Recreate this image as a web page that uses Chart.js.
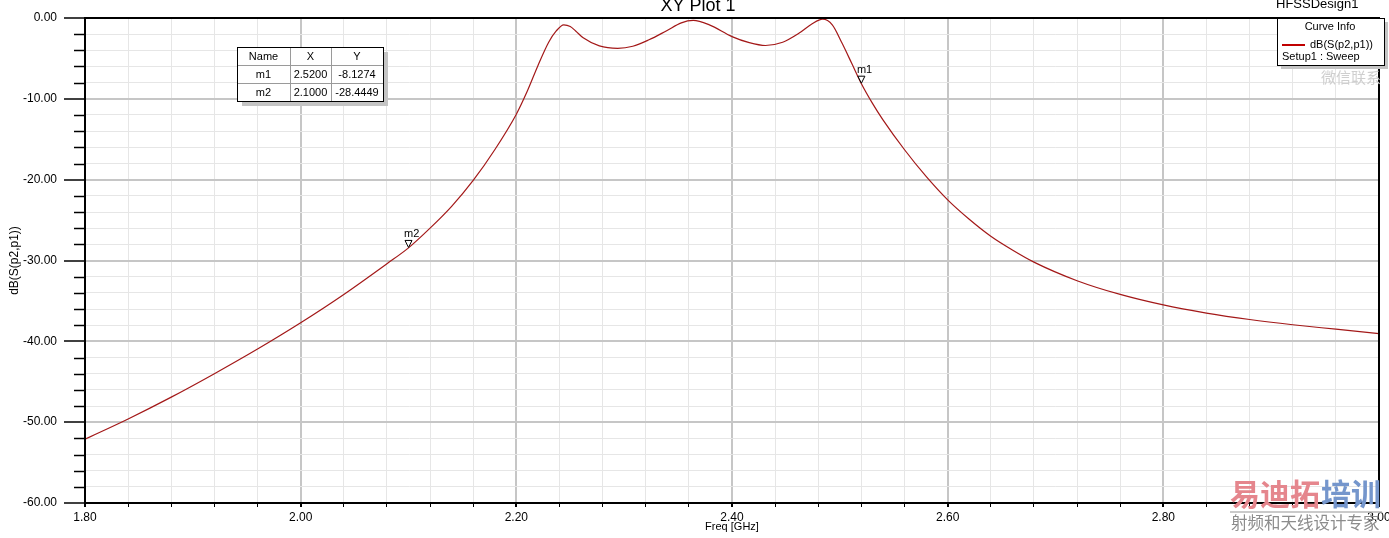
<!DOCTYPE html>
<html>
<head>
<meta charset="utf-8">
<script src="https://cdn.jsdelivr.net/npm/chart.js@4.4.1/dist/chart.umd.min.js"></script>
<style>
html,body{margin:0;padding:0;background:#fff}
#wrap{width:1389px;height:538px;position:relative}
</style>
</head>
<body>
<div id="wrap"><canvas id="myChart"></canvas></div>
<script>
// S21 curve
const freqGHz = [1.80,1.84,1.88,1.92,1.96,2.00,2.04,2.08,2.10,2.12,2.14,2.16,2.18,2.20,2.21,2.22,2.23,2.237,2.244,2.25,2.255,2.262,2.277,2.294,2.308,2.323,2.339,2.353,2.364,2.379,2.40,2.416,2.431,2.447,2.462,2.474,2.484,2.493,2.502,2.511,2.52,2.53,2.54,2.56,2.58,2.60,2.62,2.64,2.66,2.68,2.72,2.76,2.80,2.84,2.88,2.92,2.96,3.00];
const s21dB = [-52.1,-49.6,-46.9,-44.0,-40.95,-37.7,-34.2,-30.4,-28.44,-26.0,-23.3,-20.1,-16.3,-11.9,-9.1,-5.9,-3.0,-1.6,-0.85,-1.05,-1.6,-2.45,-3.45,-3.75,-3.5,-2.7,-1.6,-0.6,-0.3,-0.85,-2.3,-3.05,-3.4,-3.0,-1.9,-0.75,-0.15,-0.85,-3.1,-5.6,-8.13,-10.5,-12.6,-16.3,-19.6,-22.5,-24.9,-27.0,-28.7,-30.2,-32.5,-34.2,-35.5,-36.5,-37.3,-37.95,-38.5,-39.05];

// markers
const markerNames = ['m1','m2'];
const markerX = [2.52, 2.10];
const markerY = [-8.1274, -28.4449];

const legendLabel = 'dB(S(p2,p1))';
const legendSetup = 'Setup1 : Sweep';

const FONT = '"Liberation Sans", Arial, sans-serif';

function isMajorX(v){ return Math.abs(v*5 - Math.round(v*5)) < 1e-6; }
function isMajorY(v){ return Math.abs(v/10 - Math.round(v/10)) < 1e-6; }

const decor = {
  id: 'decor',
  beforeDraw(chart){
    const c = chart.ctx;
    c.save();
    c.fillStyle = '#fff';
    c.fillRect(0,0,chart.width,chart.height);
    c.restore();
  },
  afterDraw(chart){
    const c = chart.ctx;
    const a = chart.chartArea;
    const xs = chart.scales.x, ys = chart.scales.y;
    c.save();

    // frame
    c.strokeStyle = '#000';
    c.lineWidth = 2;
    c.strokeRect(a.left, a.top, a.right-a.left, a.bottom-a.top);

    // minor y ticks
    c.lineWidth = 1.5;
    ys.ticks.forEach(t => {
      if (isMajorY(t.value)) return;
      const py = Math.round(ys.getPixelForValue(t.value)) + 0.5;
      c.beginPath(); c.moveTo(a.left-11, py); c.lineTo(a.left, py); c.stroke();
    });

    // markers on the curve
    c.font = '11px ' + FONT;
    c.textBaseline = 'bottom';
    c.textAlign = 'left';
    markerNames.forEach((n,i) => {
      const px = xs.getPixelForValue(markerX[i]);
      const py = ys.getPixelForValue(markerY[i]);
      c.beginPath();
      c.moveTo(px-3.5, py-7.5); c.lineTo(px+3.5, py-7.5); c.lineTo(px, py-0.5); c.closePath();
      c.fillStyle = '#fff'; c.fill();
      c.strokeStyle = '#000'; c.lineWidth = 1; c.stroke();
      c.fillStyle = '#000';
      c.fillText(n, px-4.5, py-8);
    });

    // marker table
    const tx = 237, ty = 47, cw = [53,41,52], rh = 18;
    const tw = cw[0]+cw[1]+cw[2], th = rh*3;
    c.fillStyle = '#c4c4c4';
    c.fillRect(tx+5, ty+5, tw, th);
    c.fillStyle = '#fff';
    c.fillRect(tx, ty, tw, th);
    c.strokeStyle = '#9a9a9a'; c.lineWidth = 1;
    c.beginPath();
    c.moveTo(tx+cw[0]+0.5, ty); c.lineTo(tx+cw[0]+0.5, ty+th);
    c.moveTo(tx+cw[0]+cw[1]+0.5, ty); c.lineTo(tx+cw[0]+cw[1]+0.5, ty+th);
    c.moveTo(tx, ty+rh+0.5); c.lineTo(tx+tw, ty+rh+0.5);
    c.moveTo(tx, ty+2*rh+0.5); c.lineTo(tx+tw, ty+2*rh+0.5);
    c.stroke();
    c.strokeStyle = '#000';
    c.strokeRect(tx+0.5, ty+0.5, tw, th);
    const rows = [['Name','X','Y']];
    markerNames.forEach((n,i) => rows.push([n, markerX[i].toFixed(4), markerY[i].toFixed(4)]));
    c.fillStyle = '#000';
    c.textAlign = 'center'; c.textBaseline = 'middle';
    c.font = '11px ' + FONT;
    rows.forEach((r,ri) => {
      let cx = tx;
      r.forEach((s,ci) => {
        c.fillText(s, cx + cw[ci]/2, ty + ri*rh + rh/2 + 1);
        cx += cw[ci];
      });
    });

    // watermark text (drawn before legend box)
    c.font = '15px "Noto Sans CJK SC", sans-serif';
    c.fillStyle = '#cfcfcf';
    c.textAlign = 'left'; c.textBaseline = 'middle';
    c.fillText('微信联系', 1321, 77);

    // curve info box
    const lx = 1277, ly = 18, lw = 107, lh = 47;
    c.fillStyle = '#c4c4c4';
    c.fillRect(lx+4, ly+4, lw, lh);
    c.fillStyle = '#fff';
    c.fillRect(lx, ly, lw, lh);
    c.strokeStyle = '#000'; c.lineWidth = 1;
    c.strokeRect(lx+0.5, ly+0.5, lw, lh);
    c.fillStyle = '#000';
    c.font = '11px ' + FONT;
    c.textAlign = 'center';
    c.fillText('Curve Info', lx+53, ly+9);
    c.strokeStyle = '#c00000'; c.lineWidth = 2;
    c.beginPath(); c.moveTo(lx+5, ly+27); c.lineTo(lx+28, ly+27); c.stroke();
    c.textAlign = 'left';
    c.fillText(legendLabel, lx+33, ly+27);
    c.fillText(legendSetup, lx+5, ly+39);

    // title texts
    c.textBaseline = 'alphabetic';
    c.textAlign = 'center';
    c.font = '18px ' + FONT;
    c.fillText('XY Plot 1', 698, 11);
    c.textAlign = 'left';
    c.font = '13px ' + FONT;
    c.fillText('HFSSDesign1', 1276, 8);

    // bottom right watermark
    c.textBaseline = 'middle';
    c.font = 'bold 30px "Noto Sans CJK SC", sans-serif';
    c.fillStyle = '#e5868d';
    c.fillText('易迪拓', 1230, 494);
    c.fillStyle = '#7596cc';
    c.fillText('培训', 1321, 494);
    c.strokeStyle = '#b8b8b8'; c.lineWidth = 1.5;
    c.beginPath(); c.moveTo(1230, 512); c.lineTo(1382, 512); c.stroke();
    c.font = '16.5px "Noto Sans CJK SC", sans-serif';
    c.fillStyle = '#8c8c8c';
    c.fillText('射频和天线设计专家', 1231, 523);

    c.restore();
  }
};

const ctx = document.getElementById('myChart').getContext('2d');
const chart = new Chart(ctx, {
  type: 'line',
  data: {
    datasets: [{
      label: legendLabel,
      data: freqGHz.map((f,i) => ({x: f, y: s21dB[i]})),
      borderColor: '#a31818',
      borderWidth: 1.2,
      pointRadius: 0,
      fill: false,
      cubicInterpolationMode: 'monotone'
    }]
  },
  options: {
    responsive: true,
    maintainAspectRatio: false,
    animation: false,
    devicePixelRatio: 1,
    layout: { padding: { top: 18, right: 10, left: 0, bottom: 0 } },
    plugins: { legend: { display: false }, tooltip: { enabled: false }, title: { display: false } },
    scales: {
      x: {
        type: 'linear',
        min: 1.8, max: 3.0,
        afterFit(s){ s.height = 35; s.paddingLeft = 0; s.paddingRight = 0; },
        ticks: {
          stepSize: 0.04,
          autoSkip: false, maxRotation: 0,
          color: '#000',
          font: { family: FONT, size: 12 },
          padding: 3,
          callback: v => isMajorX(v) ? v.toFixed(2) : ''
        },
        grid: {
          color: c => isMajorX(c.tick.value) ? '#c6c6c6' : '#e6e6e6',
          lineWidth: c => isMajorX(c.tick.value) ? 2 : 1,
          tickColor: '#000',
          tickLength: 4
        },
        border: { display: true, color: '#000', width: 2 },
        title: { display: true, text: 'Freq [GHz]', color: '#000', font: { family: FONT, size: 11 }, padding: { top: 0, bottom: 4 } }
      },
      y: {
        min: -60, max: 0,
        afterFit(s){ s.width = 85; s.paddingTop = 0; s.paddingBottom = 0; },
        ticks: {
          stepSize: 2,
          autoSkip: false,
          color: '#000',
          font: { family: FONT, size: 12 },
          padding: 7,
          callback: v => isMajorY(v) ? v.toFixed(2) : ''
        },
        grid: {
          color: c => isMajorY(c.tick.value) ? '#c6c6c6' : '#e6e6e6',
          lineWidth: c => isMajorY(c.tick.value) ? 2 : 1,
          tickColor: c => isMajorY(c.tick.value) ? '#000' : 'rgba(0,0,0,0)',
          tickWidth: 1.5,
          tickLength: 21
        },
        border: { display: true, color: '#000', width: 2 },
        title: { display: true, text: 'dB(S(p2,p1))', color: '#000', font: { family: FONT, size: 12 }, padding: { top: 7, bottom: 0 } }
      }
    }
  },
  plugins: [decor]
});
</script>
</body>
</html>
